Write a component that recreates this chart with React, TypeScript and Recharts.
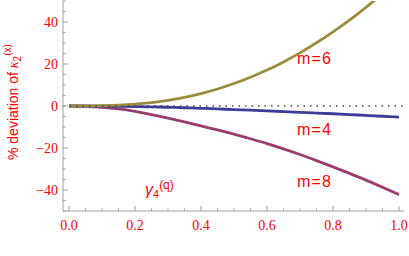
import React from "react";
import { LineChart, Line, XAxis, YAxis, ReferenceLine } from "recharts";

// gamma_4^(q) values along the x axis
const gamma = [
  0, 0.05, 0.1, 0.15, 0.2, 0.25, 0.3, 0.35, 0.4, 0.45, 0.5, 0.55, 0.6, 0.65,
  0.7, 0.75, 0.8, 0.85, 0.9, 0.95, 1.0,
];
// % deviation for each m
const devM6 = [
  0, 0.02, 0.12, 0.38, 0.85, 1.6, 2.7, 4.1, 5.9, 8.1, 10.7, 13.7, 17.1, 21.0,
  25.3, 30.1, 35.3, 40.9, 47.0, 53.5, 60.4,
];
const devM4 = [
  0, -0.01, -0.05, -0.13, -0.25, -0.4, -0.6, -0.84, -1.1, -1.39, -1.7, -2.0,
  -2.32, -2.66, -3.0, -3.35, -3.7, -4.08, -4.47, -4.87, -5.3,
];
const devM8 = [
  0, -0.15, -0.6, -1.4, -2.6, -4.1, -5.8, -7.6, -9.5, -11.4, -13.4, -15.6,
  -17.9, -20.4, -23.1, -26.0, -29.0, -32.1, -35.3, -38.7, -42.2,
];

const xTicks = [
  0, 0.05, 0.1, 0.15, 0.2, 0.25, 0.3, 0.35, 0.4, 0.45, 0.5, 0.55, 0.6, 0.65,
  0.7, 0.75, 0.8, 0.85, 0.9, 0.95, 1.0,
];
const xMajor = [0, 0.2, 0.4, 0.6, 0.8, 1.0];
const xMajorLabels = ["0.0", "0.2", "0.4", "0.6", "0.8", "1.0"];
const yTicks = [
  -50, -45, -40, -35, -30, -25, -20, -15, -10, -5, 0, 5, 10, 15, 20, 25, 30,
  35, 40, 45, 50,
];
const yMajor = [-40, -20, 0, 20, 40];
const yMajorLabels = ["\u221240", "\u221220", "0", "20", "40"];

const data = gamma.map((x, i) => ({
  x,
  m4: devM4[i],
  m6: devM6[i],
  m8: devM8[i],
}));

const FRAME = "#a0a0a0";
const RED = "#ff0000";
const BLUE = "#3d3d99";
const PURPLE = "#993d71";
const OLIVE = "#998d3d";
const SERIF = "'Liberation Serif', 'Times New Roman', serif";
const SANS = "'Liberation Sans', Arial, sans-serif";

const labelFor = (v: number, major: number[], labels: string[]) => {
  const i = major.findIndex((m) => Math.abs(m - v) < 1e-9);
  return i < 0 ? null : labels[i];
};

// frame ticks point inwards, only bottom/left carry labels
const XTick = ({ x, y, payload, side }: any) => {
  const label = labelFor(payload.value, xMajor, xMajorLabels);
  const len = label ? 5 : 2.5;
  const dir = side === "bottom" ? -1 : 1;
  return (
    <g>
      <line x1={x} y1={y} x2={x} y2={y + dir * len} stroke={FRAME} />
      {side === "bottom" && label && (
        <text
          x={x}
          y={y + 19}
          textAnchor="middle"
          fill={RED}
          style={{ fontFamily: SERIF, fontSize: 14 }}
        >
          {label}
        </text>
      )}
    </g>
  );
};

const YTick = ({ x, y, payload, side }: any) => {
  const label = labelFor(payload.value, yMajor, yMajorLabels);
  const len = label ? 5 : 2.5;
  const dir = side === "left" ? 1 : -1;
  return (
    <g>
      <line x1={x} y1={y} x2={x + dir * len} y2={y} stroke={FRAME} />
      {side === "left" && label && (
        <text
          x={x - 5}
          y={y + 5}
          textAnchor="end"
          fill={RED}
          style={{ fontFamily: SERIF, fontSize: 14 }}
        >
          {label}
        </text>
      )}
    </g>
  );
};

export default function App() {
  return (
    <div style={{ position: "absolute", left: 0, top: 0, width: 409, height: 256 }}>
      <LineChart
        width={409}
        height={256}
        data={data}
        margin={{ top: 1, right: 5, bottom: 0, left: 0 }}
      >
        <XAxis
          dataKey="x"
          type="number"
          domain={[-0.0182, 1.0152]}
          allowDataOverflow
          ticks={xTicks}
          interval={0}
          height={45}
          tickSize={0}
          tickMargin={0}
          tickLine={false}
          axisLine={{ stroke: FRAME }}
          tick={(p: any) => <XTick {...p} side="bottom" />}
        />
        <XAxis
          xAxisId="top"
          orientation="top"
          dataKey="x"
          type="number"
          domain={[-0.0182, 1.0152]}
          allowDataOverflow
          ticks={xTicks}
          interval={0}
          height={0}
          tickSize={0}
          tickMargin={0}
          tickLine={false}
          axisLine={{ stroke: FRAME }}
          tick={(p: any) => <XTick {...p} side="top" />}
        />
        <YAxis
          type="number"
          domain={[-50, 50]}
          allowDataOverflow
          ticks={yTicks}
          interval={0}
          width={63}
          tickSize={0}
          tickMargin={0}
          tickLine={false}
          axisLine={{ stroke: FRAME }}
          tick={(p: any) => <YTick {...p} side="left" />}
        />
        <YAxis
          yAxisId="right"
          orientation="right"
          type="number"
          domain={[-50, 50]}
          allowDataOverflow
          ticks={yTicks}
          interval={0}
          width={0}
          tickSize={0}
          tickMargin={0}
          tickLine={false}
          axisLine={{ stroke: FRAME }}
          tick={(p: any) => <YTick {...p} side="right" />}
        />
        <Line
          type="natural"
          dataKey="m8"
          stroke={PURPLE}
          strokeWidth={2.8}
          dot={false}
          isAnimationActive={false}
        />
        <Line
          type="natural"
          dataKey="m4"
          stroke={BLUE}
          strokeWidth={2.8}
          dot={false}
          isAnimationActive={false}
        />
        <Line
          type="natural"
          dataKey="m6"
          stroke={OLIVE}
          strokeWidth={2.8}
          dot={false}
          isAnimationActive={false}
        />
        <ReferenceLine
          y={0}
          stroke="#444"
          strokeWidth={1.3}
          strokeDasharray="1.5 5"
        />
      </LineChart>
      <svg
        width={409}
        height={256}
        style={{ position: "absolute", left: 0, top: 0, pointerEvents: "none" }}
      >
        <text
          transform="translate(18,160) rotate(-90)"
          fill={RED}
          style={{ fontFamily: SANS, fontSize: 14 }}
        >
          % deviation of{" "}
          <tspan style={{ fontFamily: SERIF, fontStyle: "italic" }}>κ</tspan>
          <tspan style={{ fontSize: 10 }} dy={3}>
            2
          </tspan>
          <tspan style={{ fontSize: 10 }} dy={-10}>
            (x)
          </tspan>
        </text>
        <g fill={RED} style={{ fontFamily: SANS, fontSize: 16, letterSpacing: 1.2 }}>
          <text x={297} y={64}>m=6</text>
          <text x={297} y={135}>m=4</text>
          <text x={297} y={187}>m=8</text>
        </g>
        <text x={145} y={195} fill={RED} style={{ fontFamily: SANS, fontSize: 16 }}>
          <tspan style={{ fontStyle: "italic" }}>γ</tspan>
          <tspan style={{ fontSize: 11 }} dy={3}>
            4
          </tspan>
          <tspan style={{ fontSize: 12 }} dy={-9}>
            (q)
          </tspan>
        </text>
      </svg>
    </div>
  );
}
